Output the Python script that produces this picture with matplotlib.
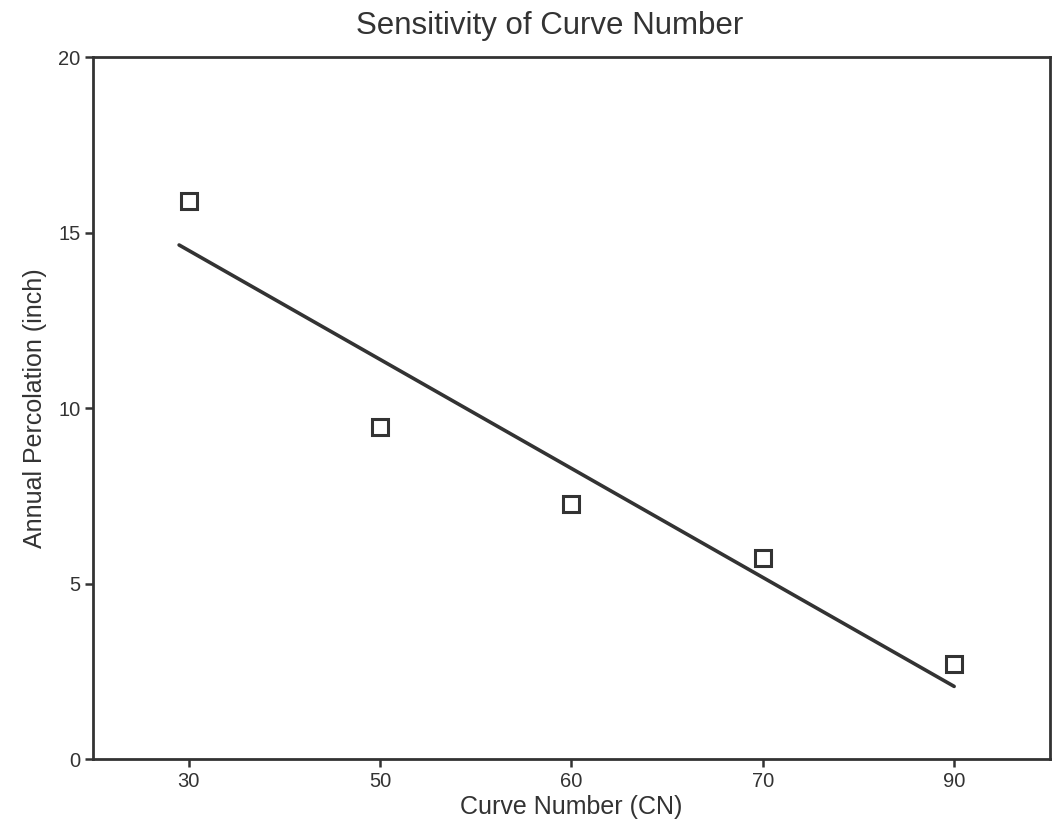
import numpy as np
import matplotlib.pyplot as plt

plt.rcParams['font.family'] = ['Liberation Sans', 'DejaVu Sans']

# Curve numbers are drawn as evenly spaced categories
cn_labels = ['30', '50', '60', '70', '90']
percolation = [15.89, 9.47, 7.28, 5.73, 2.71]

# Trend line (category position, inch)
trend_pos = [0.95, 5.0]
trend_val = [14.65, 2.07]

ink = '#333333'

fig = plt.figure(figsize=(10.53, 8.30), dpi=100)
ax = fig.add_axes([0.0883, 0.0855, 0.9087, 0.8455])

pos = np.arange(1, len(cn_labels) + 1)
ax.plot(trend_pos, trend_val, color=ink, linewidth=2.6, solid_capstyle='round')
ax.plot(pos, percolation, linestyle='none', marker='s', markersize=12,
        markerfacecolor='none', markeredgecolor=ink, markeredgewidth=2.2)

ax.set_xlim(0.5, 5.5)
ax.set_ylim(0, 20)
ax.set_xticks(pos)
ax.set_xticklabels(cn_labels)
ax.set_yticks([0, 5, 10, 15, 20])

for s in ax.spines.values():
    s.set_color(ink)
    s.set_linewidth(2)
ax.tick_params(direction='out', length=6, width=1.8, colors=ink,
               labelsize=14.5, pad=3)

ax.set_title('Sensitivity of Curve Number', fontsize=22.5, color=ink,
             x=0.4775, pad=17)
ax.set_xlabel('Curve Number (CN)', fontsize=18, color=ink, labelpad=3)
ax.set_ylabel('Annual Percolation (inch)', fontsize=18, color=ink, labelpad=8)

fig.savefig('out.png', dpi=100)
